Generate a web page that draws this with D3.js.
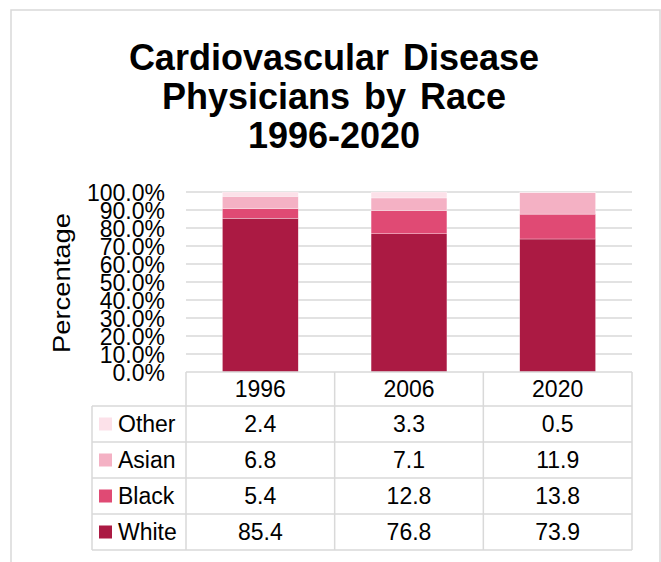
<!DOCTYPE html>
<html lang="en">
<head>
<meta charset="UTF-8">
<title>Cardiovascular Disease Physicians by Race</title>
<script src="https://cdn.jsdelivr.net/npm/d3@7"></script>
<style>
  body { margin: 0; background: #fff; }
  text { font-family: "Liberation Sans", Arial, sans-serif; fill: #000; }
</style>
</head>
<body>
<script>
// data
const years = ["1996", "2006", "2020"];
const races = ["Other", "Asian", "Black", "White"];   // table order (top -> bottom)
const white = [85.4, 76.8, 73.9];
const black = [5.4, 12.8, 13.8];
const asian = [6.8, 7.1, 11.9];
const other = [2.4, 3.3, 0.5];
const yTicks = [0, 10, 20, 30, 40, 50, 60, 70, 80, 90, 100];
const titleLines = ["Cardiovascular Disease", "Physicians by Race", "1996-2020"];

const colors = { White: "#ab1a43", Black: "#e04a74", Asian: "#f4b1c4", Other: "#fce1e9" };
const seriesByRace = { White: white, Black: black, Asian: asian, Other: other };

const width = 661, height = 562;
const plot = { left: 186, right: 632, top: 192, bottom: 372 };
const tableLeft = 92, headerH = 34, rowH = 36;
const gridColor = "#d9d9d9";

const svg = d3.select("body").append("svg")
  .attr("width", width).attr("height", height)
  .attr("viewBox", [0, 0, width, height]);

// outer chart border
svg.append("rect")
  .attr("x", 11).attr("y", 10)
  .attr("width", 649).attr("height", 560)
  .attr("fill", "none").attr("stroke", gridColor).attr("stroke-width", 1.5);

// title
svg.append("g").selectAll("text").data(titleLines).join("text")
  .attr("x", 334).attr("y", (d, i) => 70 + i * 39)
  .attr("text-anchor", "middle")
  .attr("font-size", 36).attr("font-weight", "bold")
  .attr("word-spacing", 4)
  .text(d => d);

const x = d3.scaleBand().domain(years).range([plot.left, plot.right]);
const y = d3.scaleLinear().domain([0, 100]).range([plot.bottom, plot.top]);

// gridlines
svg.append("g").selectAll("line").data(yTicks.filter(d => d > 0)).join("line")
  .attr("x1", plot.left).attr("x2", plot.right)
  .attr("y1", d => y(d)).attr("y2", d => y(d))
  .attr("stroke", gridColor).attr("stroke-width", 1.5);

// y axis labels
const yAxis = svg.append("g")
  .attr("transform", `translate(${plot.left - 21},0)`)
  .call(d3.axisLeft(y).tickValues(yTicks).tickFormat(d => d.toFixed(1) + "%").tickSize(0).tickPadding(0));
yAxis.select(".domain").remove();
yAxis.selectAll("text")
  .attr("font-family", "Liberation Sans, Arial, sans-serif")
  .attr("font-size", 23).attr("fill", "#000").attr("dy", "0.36em");

svg.append("text")
  .attr("transform", "translate(70,283) rotate(-90)")
  .attr("text-anchor", "middle")
  .attr("font-size", 24)
  .attr("textLength", 140).attr("lengthAdjust", "spacingAndGlyphs")
  .text("Percentage");

// stacked bars
const stackKeys = ["White", "Black", "Asian", "Other"];
const rows = years.map((yr, i) => {
  const r = { year: yr };
  stackKeys.forEach(k => r[k] = seriesByRace[k][i]);
  return r;
});
const stacked = d3.stack().keys(stackKeys)(rows);
const barW = x.bandwidth() * 0.51;

svg.append("g").selectAll("g").data(stacked).join("g")
  .attr("fill", d => colors[d.key])
  .selectAll("rect").data(d => d).join("rect")
  .attr("x", d => x(d.data.year) + (x.bandwidth() - barW) / 2)
  .attr("width", barW)
  .attr("y", d => y(Math.min(d[1], 100)))
  .attr("height", d => Math.max(0, y(d[0]) - y(Math.min(d[1], 100))))
  .attr("stroke", "#fff").attr("stroke-width", 0.5).attr("stroke-opacity", 0.6);

// data table
const table = svg.append("g");
const tableBottom = plot.bottom + headerH + rowH * races.length;
const rowY = i => plot.bottom + headerH + rowH * i;

// horizontal lines
table.append("line")
  .attr("x1", plot.left).attr("x2", plot.right)
  .attr("y1", plot.bottom).attr("y2", plot.bottom);
d3.range(races.length + 1).forEach(i => {
  table.append("line")
    .attr("x1", tableLeft).attr("x2", plot.right)
    .attr("y1", rowY(i)).attr("y2", rowY(i));
});
// vertical lines
table.append("line")
  .attr("x1", tableLeft).attr("x2", tableLeft)
  .attr("y1", rowY(0)).attr("y2", tableBottom);
x.domain().concat(["end"]).forEach((yr, i) => {
  const xv = plot.left + x.step() * i;
  table.append("line")
    .attr("x1", xv).attr("x2", xv)
    .attr("y1", plot.bottom).attr("y2", tableBottom);
});
table.selectAll("line").attr("stroke", gridColor).attr("stroke-width", 1.5);

// header
table.selectAll("text.year").data(years).join("text")
  .attr("class", "year")
  .attr("x", d => x(d) + x.bandwidth() / 2)
  .attr("y", plot.bottom + headerH / 2)
  .attr("dy", "0.36em")
  .attr("text-anchor", "middle")
  .attr("font-size", 23)
  .text(d => d);

// legend keys + values
races.forEach((race, i) => {
  const cy = rowY(i) + rowH / 2;
  table.append("rect")
    .attr("x", 99).attr("y", cy - 6.5)
    .attr("width", 13).attr("height", 13)
    .attr("fill", colors[race]);
  table.append("text")
    .attr("x", 118).attr("y", cy).attr("dy", "0.36em")
    .attr("font-size", 23)
    .text(race);
  years.forEach((yr, j) => {
    table.append("text")
      .attr("x", x(yr) + x.bandwidth() / 2)
      .attr("y", cy).attr("dy", "0.36em")
      .attr("text-anchor", "middle")
      .attr("font-size", 23)
      .text(seriesByRace[race][j].toFixed(1));
  });
});
</script>
</body>
</html>
